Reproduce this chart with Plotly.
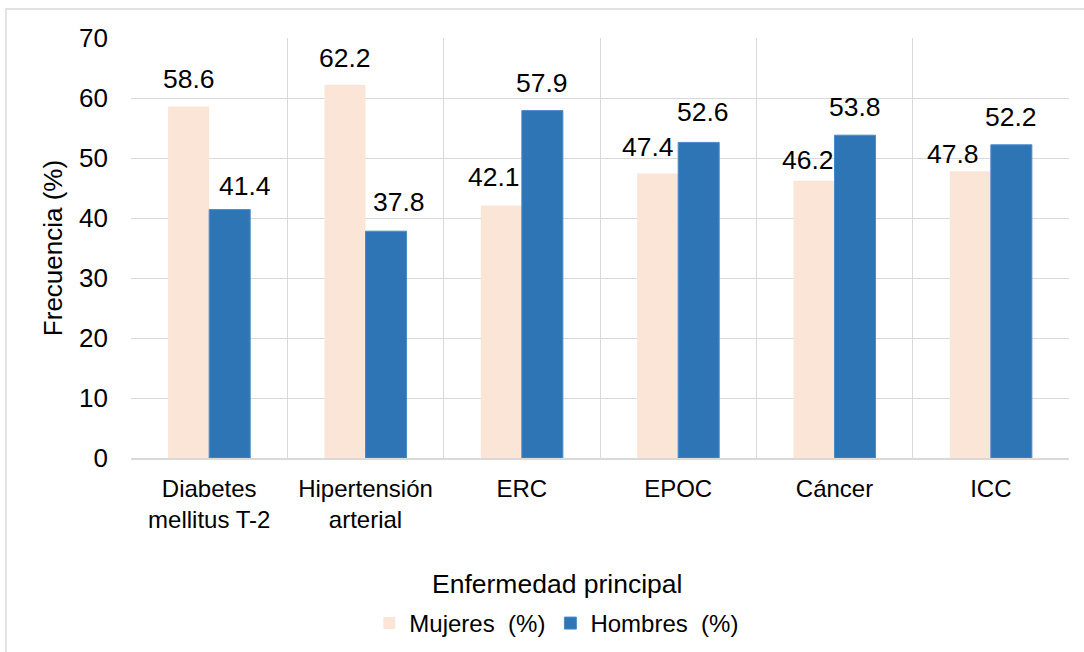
import plotly.graph_objects as go

# Frecuencia por enfermedad principal y sexo
categorias = ["Diabetes<br>mellitus T-2", "Hipertensión<br>arterial", "ERC", "EPOC", "Cáncer", "ICC"]
mujeres = [58.6, 62.2, 42.1, 47.4, 46.2, 47.8]
hombres = [41.4, 37.8, 57.9, 52.6, 53.8, 52.2]
y_ticks = [0, 10, 20, 30, 40, 50, 60, 70]

# per-label nudges (px) for the value labels: (dx, dy above bar top)
nudge_muj = [(0, 11), (0, 11), (-7, 12), (-10, 11), (-6, 5), (-17, 1)]
nudge_hom = [(15, 8), (13, 13), (0, 12), (4, 14), (0, 12), (0, 12)]

FONT = "Liberation Sans, Arial, sans-serif"
GRID = "#D9D9D9"
C_MUJ = "#FBE5D6"
C_HOM = "#2E75B6"

fig = go.Figure()
fig.add_trace(go.Bar(name="Mujeres\u00a0 (%)", x=categorias, y=mujeres,
                     marker=dict(color=C_MUJ, line=dict(width=0))))
fig.add_trace(go.Bar(name="Hombres\u00a0 (%)", x=categorias, y=hombres,
                     marker=dict(color=C_HOM, line=dict(color="#4A8AC8", width=1))))

half = 20.5  # half of one bar's pixel width
for i, cat in enumerate(categorias):
    for vals, nud, side in ((mujeres, nudge_muj, -1), (hombres, nudge_hom, 1)):
        dx, dy = nud[i]
        fig.add_annotation(x=cat, y=vals[i], text=f"{vals[i]:.1f}", showarrow=False,
                           xanchor="center", yanchor="bottom",
                           xshift=side * half + dx, yshift=dy - 1,
                           font=dict(family=FONT, size=26.5, color="#000000"))

# x-axis title, centred on the whole chart area
fig.add_annotation(xref="paper", yref="paper", x=0.454, y=-0.30,
                   text="Enfermedad principal", showarrow=False,
                   xanchor="center", yanchor="middle",
                   font=dict(family=FONT, size=26.5, color="#000000"))

# chart-area frame
fig.add_shape(type="rect", xref="paper", yref="paper",
              x0=-0.1333, x1=1.3, y0=-0.9, y1=1.069,
              line=dict(color=GRID, width=1.5), fillcolor="rgba(0,0,0,0)", layer="below")

fig.update_layout(
    width=1084, height=652,
    margin=dict(l=131, r=15, t=38, b=194, autoexpand=False),
    paper_bgcolor="white", plot_bgcolor="white",
    barmode="group", bargap=0.475, bargroupgap=0,
    font=dict(family=FONT, size=24, color="#000000"),
    showlegend=True,
    legend=dict(orientation="h", x=0.454, xanchor="center", y=-0.394, yanchor="middle",
                font=dict(family=FONT, size=24, color="#000000"),
                itemwidth=30, bgcolor="rgba(0,0,0,0)"),
    xaxis=dict(type="category", tickson="boundaries", showgrid=True, gridcolor=GRID,
               gridwidth=1.3, ticks="", showline=True, linecolor=GRID, linewidth=1.5,
               tickfont=dict(family=FONT, size=24, color="#000000"),
               ticklabelstandoff=8, automargin=False, fixedrange=True),
    yaxis=dict(range=[0, 70], tickvals=y_ticks, showgrid=True, gridcolor=GRID, gridwidth=1.3,
               zeroline=False, showline=False, ticks="", automargin=False,
               tickfont=dict(family=FONT, size=26, color="#000000"),
               ticklabelstandoff=22,
               title=dict(text="Frecuencia (%)", standoff=8,
                          font=dict(family=FONT, size=26, color="#000000"))),
)

fig.write_html("out.html")
